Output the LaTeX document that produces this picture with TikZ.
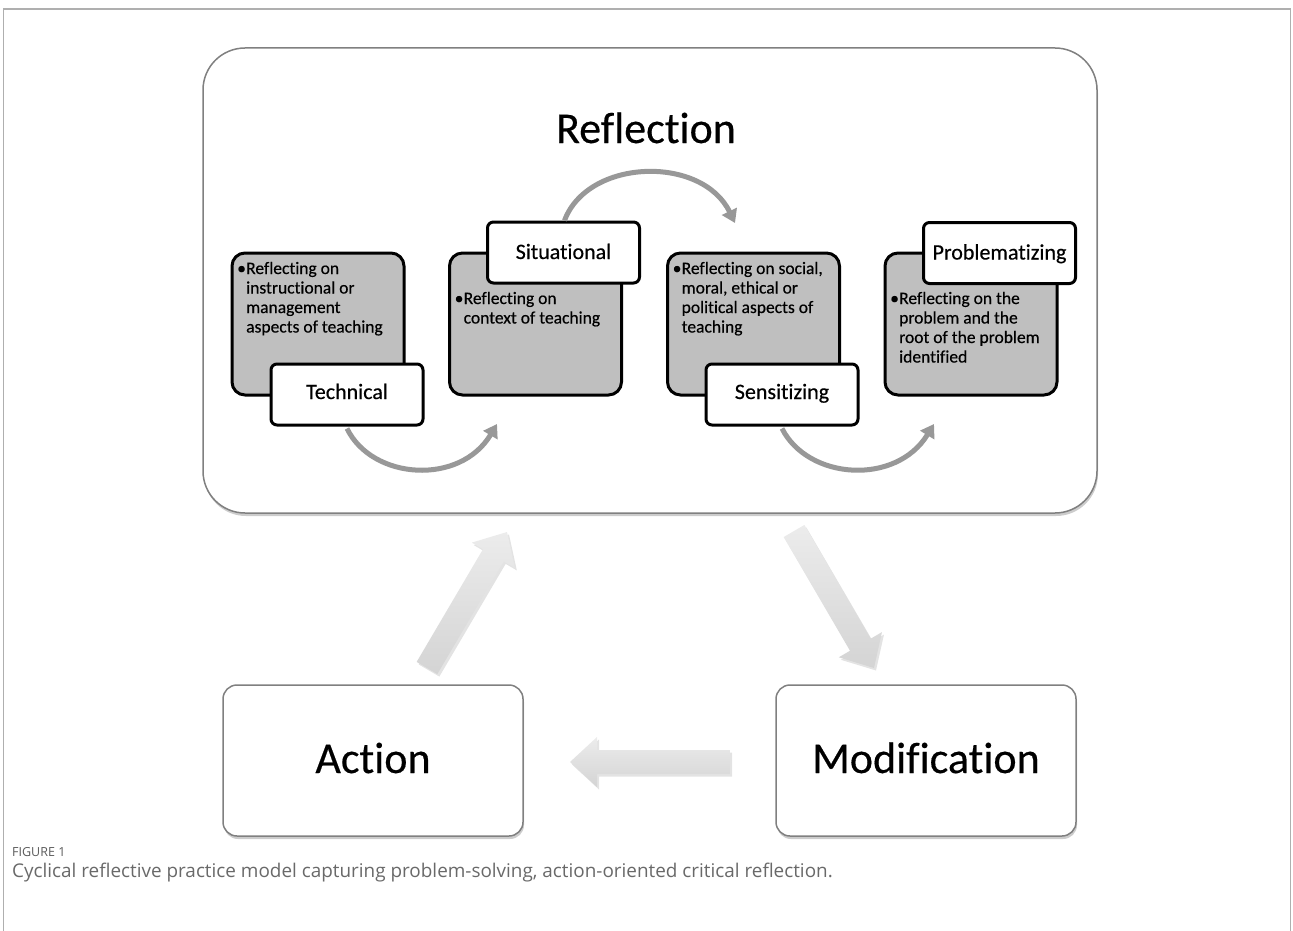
\documentclass[tikz,border=0pt]{standalone}
\usepackage{fontspec}
\setmainfont{Carlito}[FakeBold=0.4,Ligatures=NoCommon]
\newfontfamily\capfont{Open Sans}
\usetikzlibrary{arrows.meta,shadows,calc}
\definecolor{boxgray}{RGB}{191,191,191}
\definecolor{arcgray}{RGB}{152,152,152}
\definecolor{framegray}{RGB}{175,175,175}
\definecolor{bordgray}{RGB}{128,128,128}
\definecolor{blocklight}{RGB}{236,236,236}
\definecolor{blockdark}{RGB}{212,212,212}
\definecolor{captxt}{RGB}{105,105,105}
\definecolor{caphead}{RGB}{90,90,90}
\newcommand{\bul}{\makebox[9pt][l]{\textbullet}}
\newcommand{\ind}{\hspace*{9pt}}
\begin{document}
\begin{tikzpicture}[x=1pt,y=-1pt,
  bigbox/.style={draw=bordgray, line width=1.5pt, fill=white, rounded corners=14pt,
    drop shadow={shadow xshift=1pt,shadow yshift=-3pt,opacity=0.4}},
  greybox/.style={draw=black, line width=3pt, fill=boxgray, rounded corners=13pt,
    minimum width=172pt, minimum height=142pt, inner sep=0pt},
  labelbox/.style={draw=black, line width=3pt, fill=white, rounded corners=6pt,
    minimum width=152pt, minimum height=61pt, inner sep=0pt},
  labeltxt/.style={anchor=base, inner sep=0pt, font=\fontsize{22}{26}\selectfont},
  bodytxt/.style={anchor=base west, inner sep=0pt, font=\fontsize{17.5}{19.5}\selectfont},
  bigtxt/.style={anchor=base, inner sep=0pt, font=\fontsize{44}{52}\selectfont},
  arcarrow/.style={draw=arcgray, line width=5pt, -{Triangle[length=13pt,width=16pt]}},
  blockarrow/.style={top color=blocklight, bottom color=blockdark,
    drop shadow={shadow xshift=2pt,shadow yshift=-2.5pt,opacity=0.22}},
]
\useasboundingbox (0,0) rectangle (1293,931);
% outer frame
\draw[framegray, line width=1.5pt] (3.5,931) -- (3.5,9) -- (1290.5,9) -- (1290.5,931);

% Reflection container
\node[bigbox, rounded corners=42pt, minimum width=894pt, minimum height=465pt] (refl) at (650,280.5) {};
\node[bigtxt] (refltxt) at (646,143) {Reflection};

% grey boxes
\node[greybox] (g1) at (318,324) {};
\node[greybox] (g2) at (535.5,324) {};
\node[greybox] (g3) at (753.5,324) {};
\node[greybox] (g4) at (971,324) {};

% body texts
\foreach \t [count=\i] in {{\bul Reflecting on},{\ind instructional or},{\ind management},{\ind aspects of teaching}}
  \node[bodytxt] (ta-\i) at (237,{274+19.5*(\i-1)}) {\t};
\foreach \t [count=\i] in {{\bul Reflecting on},{\ind context of teaching}}
  \node[bodytxt] (tb-\i) at (454.5,{304+19.5*(\i-1)}) {\t};
\foreach \t [count=\i] in {{\bul Reflecting on social,},{\ind moral, ethical or},{\ind political aspects of},{\ind teaching}}
  \node[bodytxt] (tc-\i) at (672.5,{274+19.5*(\i-1)}) {\t};
\foreach \t [count=\i] in {{\bul Reflecting on the},{\ind problem and the},{\ind root of the problem},{\ind identified}}
  \node[bodytxt] (td-\i) at (890,{304+19.5*(\i-1)}) {\t};

% label boxes
\node[labelbox] (l1) at (347,394.5) {};
\node[labeltxt] (l1t) at (347,399) {Technical};
\node[labelbox] (l2) at (563.5,252.5) {};
\node[labeltxt] (l2t) at (563.5,259) {Situational};
\node[labelbox] (l3) at (782,394.5) {};
\node[labeltxt] (l3t) at (782,399) {Sensitizing};
\node[labelbox] (l4) at (999.5,253) {};
\node[labeltxt] (l4t) at (999.5,259.5) {Problematizing};

% curved arrows
\coordinate (a1e) at (497,424);
\coordinate (a2e) at (735,223);
\coordinate (a3e) at (934,424);
\draw[arcarrow] (l1.south) ++(0,2) .. controls (372,480) and (460,486) .. (a1e);
\draw[arcarrow] (l2.north) ++(1,0) .. controls (588,158) and (702,155) .. (a2e);
\draw[arcarrow] (l3.south) ++(0,2) .. controls (808,480) and (896,486) .. (a3e);

% bottom boxes
\node[bigbox, minimum width=300pt, minimum height=151pt] (act) at (373,760.5) {};
\node[bigtxt] (acttxt) at (373,773) {Action};
\node[bigbox, minimum width=300pt, minimum height=151pt] (mod) at (926,760.5) {};
\node[bigtxt] (modtxt) at (926,773) {Modification};

% block arrows
\newcommand{\blockarr}[2]{%
  \path ($(#2)!27pt!(#1)$) coordinate (hb);
  \path[blockarrow] ($(#1)!12pt!90:(#2)$) -- ($(hb)!12pt!90:(#2)$) -- ($(hb)!25pt!90:(#2)$)
    -- (#2) -- ($(hb)!25pt!-90:(#2)$) -- ($(hb)!12pt!-90:(#2)$) -- ($(#1)!12pt!-90:(#2)$) -- cycle;}
\coordinate (upt) at (427,668);
\coordinate (uph) at (507,532);
\coordinate (dnt) at (794,531);
\coordinate (dnh) at (874,668);
\coordinate (lft) at (730,762);
\coordinate (lfh) at (570,762);
\blockarr{upt}{uph}
\blockarr{dnt}{dnh}
\blockarr{lft}{lfh}

% caption
\node[anchor=base west, inner sep=0pt, font=\capfont\fontsize{12.5}{14}\selectfont, text=caphead] (fig) at (12,856) {FIGURE 1};
\node[anchor=base west, inner sep=0pt, font=\capfont\fontsize{18.9}{22}\selectfont, text=captxt] (cap) at (12,877) {Cyclical reflective practice model capturing problem-solving, action-oriented critical reflection.};
\end{tikzpicture}
\end{document}
